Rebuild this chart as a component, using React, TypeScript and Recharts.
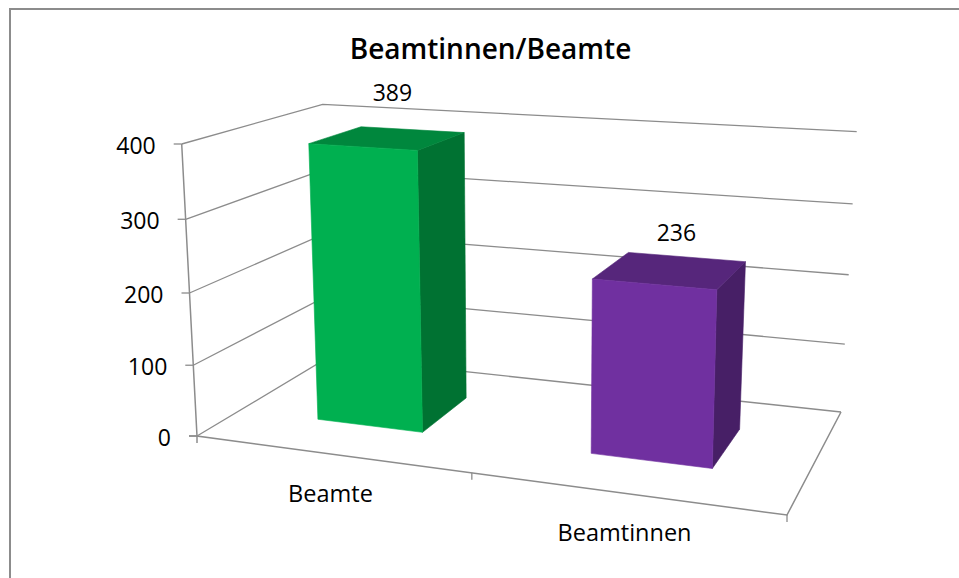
import { BarChart, Bar, XAxis, YAxis, LabelList, CartesianGrid } from "recharts";

// Values
const categories = ["Beamte", "Beamtinnen"];
const seriesValues = [389, 236];
const valueTicks = [0, 100, 200, 300, 400];
const chartTitle = "Beamtinnen/Beamte";

const chartData = categories.map((name, i) => ({ name, value: seriesValues[i] }));

// Colours per bar: front, top, side
const FACE_COLORS = [
  { front: "#00B050", top: "#00873D", side: "#007232" },
  { front: "#7030A0", top: "#56267B", side: "#471F66" },
];
const LINE = "#8C8C8C";
const FONT = "'Open Sans', sans-serif";

// Flat plot area that Recharts scales into. Everything in it is then
// pushed through the fake 3D camera below.
const CHART_W = 959;
const CHART_H = 578;
const PLOT_LEFT = 160;
const PLOT_TOP = 80;
const PLOT_W = 500;
const PLOT_H = 400;
const BAND_SHIFT = 0.0045;

// Box corners on screen: front-left, front-right, back-right, back-left
const FLOOR = [[197, 436], [787, 515], [841, 412], [329, 357]];
const ROOF = [[181.7, 144], [797.6, 183.9], [856.7, 131.7], [322.7, 104.3]];
const HEIGHT_SKEW = 1.042;
const BAR_FRONT = 0.3;
const BAR_BACK = 0.7;

// unit square -> quad
const homography = (q: number[][]) => {
  const [[x0, y0], [x1, y1], [x2, y2], [x3, y3]] = q;
  const dx1 = x1 - x2, dx2 = x3 - x2, sx = x0 - x1 + x2 - x3;
  const dy1 = y1 - y2, dy2 = y3 - y2, sy = y0 - y1 + y2 - y3;
  const den = dx1 * dy2 - dx2 * dy1;
  const g = (sx * dy2 - dx2 * sy) / den;
  const h = (dx1 * sy - sx * dy1) / den;
  const a = x1 - x0 + g * x1, b = x3 - x0 + h * x3;
  const d = y1 - y0 + g * y1, e = y3 - y0 + h * y3;
  return (u: number, w: number) => {
    const n = g * u + h * w + 1;
    return [(a * u + b * w + x0) / n, (d * u + e * w + y0) / n];
  };
};
const floorMap = homography(FLOOR);
const roofMap = homography(ROOF);

// u: along the categories, v: up the value axis, w: into the picture
const project = (u: number, v: number, w: number) => {
  const lo = floorMap(u, w);
  const hi = roofMap(u, w);
  const t = v / (v + (1 - v) * HEIGHT_SKEW);
  return [lo[0] + (hi[0] - lo[0]) * t, lo[1] + (hi[1] - lo[1]) * t];
};

const toU = (x: number) => Math.min(1, (x - PLOT_LEFT) / PLOT_W + BAND_SHIFT);
const toV = (y: number) => (PLOT_TOP + PLOT_H - y) / PLOT_H;
const pts = (list: number[][]) => list.map((p) => p.join(",")).join(" ");

const Face = ({ corners, color }: { corners: number[][]; color: string }) => (
  <polygon points={pts(corners)} fill={color} stroke={color} strokeWidth={0.6} strokeLinejoin="round" />
);

const Bar3D = ({ x, y, width, height, index }: any) => {
  const u0 = toU(x), u1 = toU(x + width);
  const vTop = toV(y), vBase = toV(y + height);
  const c = FACE_COLORS[index];
  const A = project(u0, vBase, BAR_FRONT), B = project(u1, vBase, BAR_FRONT);
  const C = project(u1, vTop, BAR_FRONT), D = project(u0, vTop, BAR_FRONT);
  const E = project(u1, vBase, BAR_BACK), F = project(u1, vTop, BAR_BACK);
  const G = project(u0, vTop, BAR_BACK);
  return (
    <g>
      <Face corners={[B, E, F, C]} color={c.side} />
      <Face corners={[D, C, F, G]} color={c.top} />
      <Face corners={[A, B, C, D]} color={c.front} />
    </g>
  );
};

// data label floats above the top face
const LABEL_LIFT = [46, 38];
const LABEL_NUDGE = [4.5, 6];
const ValueLabel = ({ x, y, width, value, index }: any) => {
  const p = project(toU(x + width / 2), toV(y), 0.5);
  return (
    <text x={p[0] + LABEL_NUDGE[index]} y={p[1] - LABEL_LIFT[index]} textAnchor="middle" dominantBaseline="central"
      fontFamily={FONT} fontSize={23} fill="#000">
      {value}
    </text>
  );
};

// One gridline folded over the left wall and the back wall
const WallLine = ({ y1 }: any) => {
  const v = toV(y1);
  return (
    <polyline points={pts([project(0, v, 0), project(0, v, 1), project(1, v, 1)])} fill="none" stroke={LINE} strokeWidth={1.3} />
  );
};

// Stub and label for one value tick
const ValueTick = ({ y, payload }: any) => {
  const front = project(0, toV(y), 0);
  return (
    <g>
      <line x1={front[0] - 8} y1={front[1]} x2={front[0]} y2={front[1]} stroke={LINE} strokeWidth={1.3} />
      <text x={front[0] - 26} y={front[1] + 1} textAnchor="end" dominantBaseline="central"
        fontFamily={FONT} fontSize={23} fill="#000">
        {payload.value}
      </text>
    </g>
  );
};

// Category label below the front floor edge, stub at the band's right end
const CategoryTick = ({ x, payload }: any) => {
  const p = project(toU(x), 0, 0);
  const band = PLOT_W / categories.length;
  const s = project(toU(x + band / 2), 0, 0);
  return (
    <g>
      <line x1={s[0]} y1={s[1]} x2={s[0]} y2={s[1] + 7} stroke={LINE} strokeWidth={1.3} />
      <text x={p[0]} y={p[1] + 39} textAnchor="middle" dominantBaseline="central"
        fontFamily={FONT} fontSize={23.5} fill="#000">
        {payload.value}
      </text>
    </g>
  );
};

const FloorLines = () => {
  const o = project(0, 0, 0);
  return (
    <g fill="none" stroke={LINE} strokeWidth={1.5}>
      <polyline points={pts([project(0, 1, 0), o, project(1, 0, 0), project(1, 0, 1)])} />
      <line x1={o[0] - 8} y1={o[1]} x2={o[0]} y2={o[1]} />
      <line x1={o[0]} y1={o[1]} x2={o[0]} y2={o[1] + 7} />
    </g>
  );
};

export default function App() {
  return (
    <div style={{ position: "absolute", left: 0, top: 0, width: CHART_W, height: CHART_H, background: "#fff", overflow: "hidden" }}>
      <div style={{ position: "absolute", left: 9, top: 8, right: -5, bottom: -5, borderLeft: `2px solid ${LINE}`, borderTop: `2px solid ${LINE}` }} />
      <div style={{ position: "absolute", left: 0, top: 0 }}>
        <BarChart
          width={CHART_W}
          height={CHART_H}
          data={chartData}
          barCategoryGap="30%"
          margin={{ left: PLOT_LEFT - 60, top: PLOT_TOP, right: CHART_W - PLOT_LEFT - PLOT_W, bottom: CHART_H - PLOT_TOP - PLOT_H - 30 }}
        >
          <text x={490.5} y={48} textAnchor="middle" dominantBaseline="central" fontFamily={FONT} fontSize={28} fontWeight={600} fill="#000">
            {chartTitle}
          </text>
          <CartesianGrid vertical={false} horizontal={(props: any) => <WallLine key={props.y1} {...props} />} />
          <XAxis dataKey="name" height={30} axisLine={false} tickLine={false} interval={0} tick={<CategoryTick />} />
          <YAxis width={60} domain={[0, 400]} ticks={valueTicks} axisLine={false} tickLine={false} interval={0} tick={<ValueTick />} />
          <FloorLines />
          <Bar dataKey="value" isAnimationActive={false} shape={<Bar3D />}>
            <LabelList dataKey="value" content={<ValueLabel />} />
          </Bar>
        </BarChart>
      </div>
    </div>
  );
}
